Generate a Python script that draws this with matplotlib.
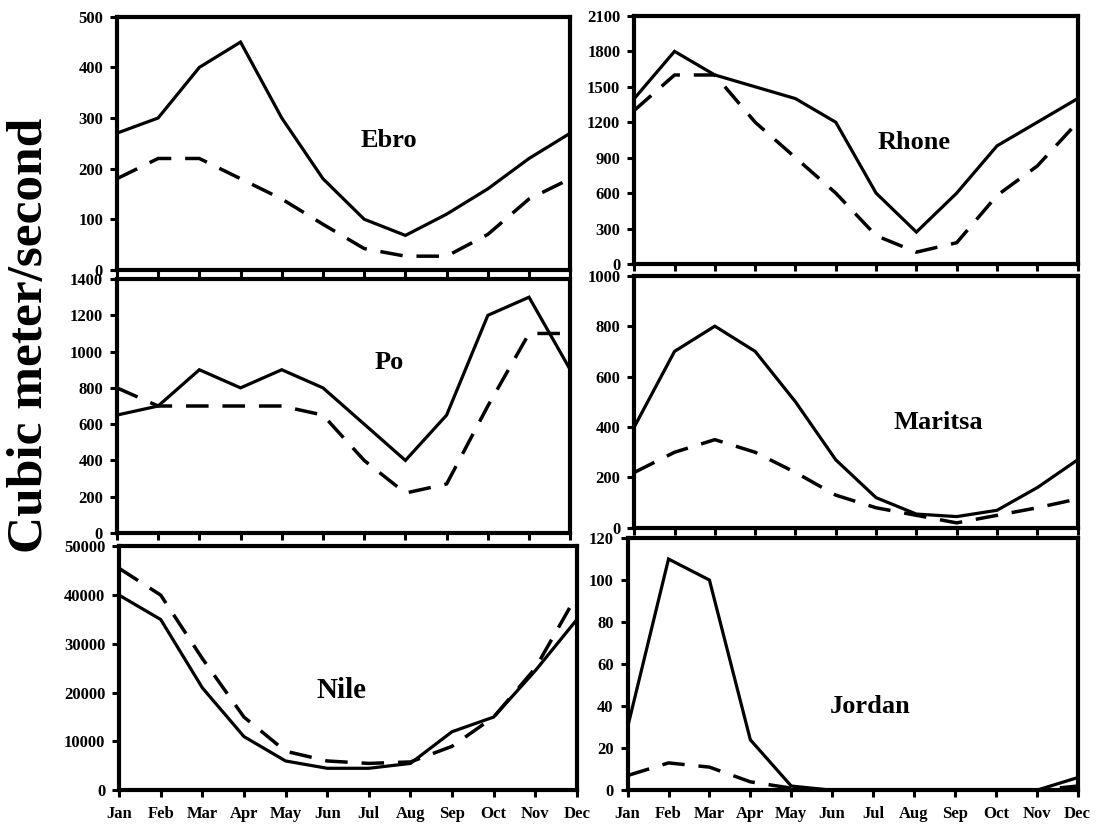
import matplotlib
matplotlib.use("Agg")
import matplotlib.pyplot as plt

plt.rcParams['font.family'] = ['Liberation Serif', 'DejaVu Serif']
plt.rcParams['font.weight'] = 'bold'

months = ['Jan', 'Feb', 'Mar', 'Apr', 'May', 'Jun', 'Jul', 'Aug', 'Sep', 'Oct', 'Nov', 'Dec']

# solid = first series, dashed = second series
ebro_solid = [270, 300, 400, 450, 300, 180, 100, 68, 110, 160, 220, 270]
ebro_dashed = [180, 220, 220, 180, 140, 90, 42, 27, 27, 70, 140, 180]

rhone_solid = [1400, 1800, 1600, 1500, 1400, 1200, 600, 270, 600, 1000, 1200, 1400]
rhone_dashed = [1300, 1600, 1600, 1200, 900, 600, 240, 100, 180, 580, 830, 1200]

po_solid = [650, 700, 900, 800, 900, 800, 600, 400, 650, 1200, 1300, 900]
po_dashed = [800, 700, 700, 700, 700, 650, 400, 220, 270, 700, 1100, 1100]

maritsa_solid = [400, 700, 800, 700, 500, 270, 120, 55, 45, 70, 160, 270]
maritsa_dashed = [220, 300, 350, 300, 220, 130, 80, 50, 20, 50, 80, 115]

nile_solid = [40000, 35000, 21000, 11000, 6000, 4500, 4500, 5500, 12000, 15000, 24500, 35000]
nile_dashed = [45500, 40000, 27000, 15000, 8000, 6000, 5500, 5800, 9000, 15000, 25000, 40000]

jordan_solid = [30, 110, 100, 24, 2, 0, 0, 0, 0, 0, 0, 6]
jordan_dashed = [7, 13, 11, 4, 1, 0, 0, 0, 0, 0, 0, 2]

panels = [
    # name, solid, dashed, ymax, ystep, rect, label pos, fontsize, show month labels
    ('Ebro', ebro_solid, ebro_dashed, 500, 100, [0.106, 0.678, 0.411, 0.302], (0.60, 0.51), 19, False),
    ('Rhone', rhone_solid, rhone_dashed, 2100, 300, [0.575, 0.685, 0.402, 0.296], (0.63, 0.49), 19, False),
    ('Po', po_solid, po_dashed, 1400, 200, [0.106, 0.364, 0.411, 0.303], (0.60, 0.67), 19, False),
    ('Maritsa', maritsa_solid, maritsa_dashed, 1000, 200, [0.575, 0.370, 0.402, 0.301], (0.686, 0.42), 19, False),
    ('Nile', nile_solid, nile_dashed, 50000, 10000, [0.108, 0.057, 0.415, 0.291], (0.485, 0.41), 21, True),
    ('Jordan', jordan_solid, jordan_dashed, 120, 20, [0.569, 0.057, 0.408, 0.301], (0.54, 0.33), 19, True),
]

fig = plt.figure(figsize=(11.03, 8.38), dpi=100)

for name, solid, dashed, ymax, ystep, rect, pos, fs, show_x in panels:
    ax = fig.add_axes(rect)
    x = list(range(len(months)))
    ax.plot(x, solid, color='black', lw=2.3, solid_joinstyle='miter')
    ax.plot(x, dashed, color='black', lw=2.5, dashes=(6.5, 4))
    ax.set_xlim(0, 11)
    ax.set_ylim(0, ymax)
    ax.set_yticks(range(0, ymax + 1, ystep))
    ax.set_xticks(x)
    if show_x:
        ax.set_xticklabels(months)
    else:
        ax.set_xticklabels([])
    for s in ax.spines.values():
        s.set_linewidth(3)
    ax.tick_params(axis='both', direction='out', length=5, width=2.2,
                   labelsize=12, pad=5)
    ax.tick_params(axis='x', pad=6)
    for lab in ax.get_xticklabels() + ax.get_yticklabels():
        lab.set_fontweight('bold')
    ax.text(pos[0], pos[1], name, transform=ax.transAxes, ha='center', va='center',
            fontsize=fs, fontweight='bold')

fig.text(0.027, 0.60, 'Cubic meter/second', rotation=90, ha='center', va='center',
         fontsize=37, fontweight='bold')

fig.savefig('out.png', dpi=100)
